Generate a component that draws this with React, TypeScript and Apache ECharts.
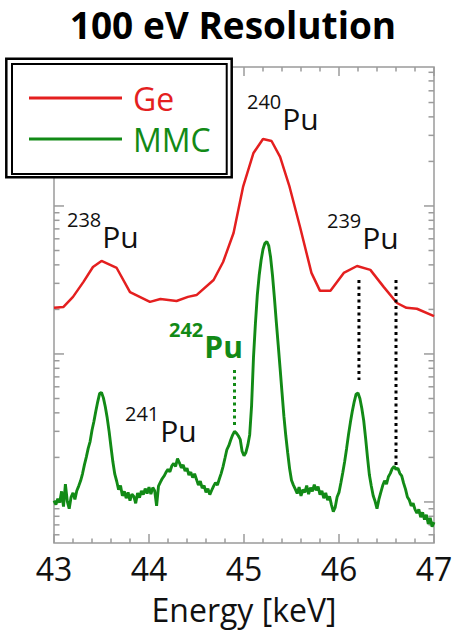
import { useEffect, useRef } from 'react';
import * as echarts from 'echarts';

const chartTitle = '100 eV Resolution';
const xAxisName = 'Energy [keV]';
const xMin = 43;
const xMax = 47;
const xInterval = 1;
const yMin = 5.28;
const yMax = 8690;
const yMajorTicks = [10, 100, 1000];
const yMinorTicks = [6, 7, 8, 9, 20, 30, 40, 50, 60, 70, 80, 90, 200, 300, 400, 500, 600, 700, 800, 900, 2000, 3000, 4000, 5000, 6000, 7000, 8000];
const seriesNames = ['Ge', 'MMC'];

// Ge spectrum (energy keV, counts)
const geSpectrum: [number, number][] = [
  [43.0, 205], [43.1, 208], [43.2, 243], [43.31, 307], [43.41, 387], [43.5, 425], [43.66, 381], [43.8, 262],
  [44.01, 225], [44.12, 235], [44.29, 228], [44.41, 243], [44.5, 250], [44.68, 316], [44.78, 418], [44.89, 657],
  [44.99, 1344], [45.1, 2281], [45.2, 2836], [45.29, 2749], [45.38, 2144], [45.48, 1344], [45.59, 721], [45.71, 353],
  [45.8, 267], [45.91, 267], [46.05, 353], [46.19, 393], [46.33, 370], [46.47, 284], [46.61, 221], [46.71, 205],
  [46.82, 202], [47.0, 180],
];

// MMC spectrum (energy keV, counts)
const mmcSpectrum: [number, number][] = [
  [43.0, 10.2], [43.02, 9.6], [43.04, 10.5], [43.06, 9.9], [43.08, 11.8], [43.1, 9.3], [43.12, 13.2], [43.14, 10.1],
  [43.16, 9.0], [43.18, 10.8], [43.2, 11.5], [43.22, 10.4], [43.24, 11.9], [43.26, 12.8], [43.28, 13.9], [43.3, 15.5],
  [43.32, 17.8], [43.34, 20.1], [43.36, 23.0], [43.38, 25.6], [43.4, 30.5], [43.42, 35.0], [43.44, 41.0], [43.46, 47.5],
  [43.48, 54.0], [43.5, 55.0], [43.52, 50.5], [43.54, 44.0], [43.56, 37.0], [43.58, 30.0], [43.6, 23.5], [43.62, 18.6],
  [43.64, 15.4], [43.66, 13.8], [43.68, 12.1], [43.7, 12.9], [43.72, 11.0], [43.74, 11.8], [43.76, 10.6], [43.78, 11.6],
  [43.8, 10.2], [43.82, 11.3], [43.84, 10.9], [43.86, 9.8], [43.88, 11.5], [43.9, 10.7], [43.92, 11.9], [43.94, 11.2],
  [43.96, 12.3], [43.98, 11.4], [44.0, 12.6], [44.02, 11.3], [44.04, 12.5], [44.06, 11.9], [44.08, 9.4], [44.1, 12.8],
  [44.12, 13.6], [44.14, 14.4], [44.16, 15.0], [44.18, 15.9], [44.2, 16.6], [44.22, 16.0], [44.24, 17.5], [44.26, 18.2],
  [44.28, 17.4], [44.3, 19.6], [44.32, 18.4], [44.34, 17.0], [44.36, 17.8], [44.38, 16.2], [44.4, 16.9], [44.42, 15.2],
  [44.44, 15.9], [44.46, 14.6], [44.48, 15.5], [44.5, 14.2], [44.52, 13.0], [44.54, 13.8], [44.56, 12.4], [44.58, 12.9],
  [44.6, 11.6], [44.62, 12.3], [44.64, 11.2], [44.66, 12.0], [44.68, 12.8], [44.7, 13.5], [44.72, 13.0], [44.74, 14.3],
  [44.76, 15.6], [44.78, 17.4], [44.8, 19.8], [44.82, 22.6], [44.84, 24.0], [44.86, 26.2], [44.88, 28.3], [44.9, 30.0],
  [44.92, 29.2], [44.94, 28.0], [44.96, 26.5], [44.98, 22.0], [45.0, 20.5], [45.02, 21.6], [45.04, 24.2], [45.06, 28.5],
  [45.08, 45.0], [45.1, 95], [45.12, 160], [45.14, 250], [45.16, 340], [45.18, 430], [45.2, 510], [45.22, 560],
  [45.24, 575], [45.26, 540], [45.28, 450], [45.3, 340], [45.32, 240], [45.34, 165], [45.36, 115], [45.38, 80],
  [45.4, 55], [45.42, 38], [45.44, 28], [45.46, 21.5], [45.48, 16.8], [45.5, 14.0], [45.52, 13.0], [45.54, 12.2],
  [45.56, 11.4], [45.58, 12.6], [45.6, 11.0], [45.62, 12.1], [45.64, 11.6], [45.66, 12.9], [45.68, 11.3], [45.7, 12.5],
  [45.72, 11.8], [45.74, 13.1], [45.76, 12.0], [45.78, 12.7], [45.8, 11.2], [45.82, 11.9], [45.84, 10.6], [45.86, 11.5],
  [45.88, 10.3], [45.9, 10.9], [45.92, 9.6], [45.94, 8.6], [45.96, 9.2], [45.98, 10.8], [46.0, 11.6], [46.02, 13.5],
  [46.04, 15.8], [46.06, 18.8], [46.08, 23.0], [46.1, 28.5], [46.12, 34.5], [46.14, 41.0], [46.16, 47.5], [46.18, 53.5],
  [46.2, 54.5], [46.22, 50.0], [46.24, 43.0], [46.26, 35.5], [46.28, 27.0], [46.3, 20.0], [46.32, 15.2], [46.34, 12.8],
  [46.36, 11.0], [46.38, 10.1], [46.4, 9.0], [46.42, 10.4], [46.44, 11.6], [46.46, 12.9], [46.48, 13.9], [46.5, 13.2],
  [46.52, 14.8], [46.54, 15.6], [46.56, 16.8], [46.58, 17.4], [46.6, 16.6], [46.62, 16.9], [46.64, 15.6], [46.66, 15.0],
  [46.68, 13.4], [46.7, 12.2], [46.72, 10.8], [46.74, 10.3], [46.76, 9.4], [46.78, 9.8], [46.8, 8.9], [46.82, 8.4],
  [46.84, 8.9], [46.86, 7.9], [46.88, 8.5], [46.9, 7.6], [46.92, 8.2], [46.94, 7.1], [46.96, 7.8], [46.98, 6.8],
  [47.0, 7.3],
];

// Guide lines (energy, top counts, bottom counts)
const guideEnergies = [44.9, 46.21, 46.6];
const guideTop = [78, 316, 316];
const guideBottom = [32, 66.7, 17.2];
const guideIsMmc = [true, false, false];

const RED = '#e41f1f';
const GREEN = '#128a16';
const GREY = '#9b9b9b';
const FONT = 'Open Sans';

export default function App() {
  const ref = useRef<HTMLDivElement>(null);
  useEffect(() => {
    if (!ref.current) return;
    const chart = echarts.init(ref.current, null, { renderer: 'svg' });

    const tickData = [
      ...yMajorTicks.map((v) => [xMin, v, 10]),
      ...yMinorTicks.map((v) => [xMin, v, 5.5]),
    ];

    const xAxisCommon = {
      type: 'value' as const,
      min: xMin,
      max: xMax,
      interval: xInterval,
      axisLine: { show: false },
      splitLine: { show: false },
      axisTick: { show: true, inside: true, length: 9, lineStyle: { color: GREY, width: 1.5 } },
      minorTick: { show: true, splitNumber: 5, length: 4.5, lineStyle: { color: GREY, width: 1.5 } },
    };

    const label = (mass: string, x: number, y: number, color: string, bold: boolean) => ({
      type: 'text',
      x,
      y,
      z: 10,
      style: {
        text: `{s|${mass}}{p|Pu}`,
        verticalAlign: 'top',
        align: 'left',
        rich: {
          s: { fontSize: 20, fontFamily: FONT, fontWeight: bold ? 'bold' : 'normal', fill: color, color, verticalAlign: 'top' },
          p: { fontSize: 30, fontFamily: FONT, fontWeight: bold ? 'bold' : 'normal', fill: color, color, padding: [12, 0, 0, 1] },
        },
      },
    });

    const option: any = {
      animation: false,
      title: {
        text: chartTitle,
        left: 228,
        textAlign: 'center',
        top: 1,
        textStyle: { fontFamily: FONT, fontWeight: 'bold', fontSize: 37, color: '#000' },
      },
      grid: { left: 54, right: 28, top: 67, bottom: 91, show: true, borderColor: GREY, borderWidth: 1.5, backgroundColor: 'transparent' },
      legend: {
        orient: 'vertical',
        left: 12,
        top: 64,
        z: 6,
        padding: [18, 16, 19, 17],
        itemGap: 9,
        itemWidth: 93,
        itemHeight: 3,
        icon: 'rect',
        backgroundColor: '#fff',
        borderColor: '#000',
        borderWidth: 2,
        selectedMode: false,
        textStyle: { fontFamily: FONT, fontSize: 32, lineHeight: 32, padding: [0, 0, 0, 6] },
        data: [
          { name: seriesNames[0], textStyle: { color: RED } },
          { name: seriesNames[1], textStyle: { color: GREEN } },
        ],
      },
      xAxis: [
        {
          ...xAxisCommon,
          position: 'bottom',
          name: xAxisName,
          nameLocation: 'middle',
          nameGap: 50,
          nameTextStyle: { fontFamily: FONT, fontSize: 32, color: '#111' },
          axisLabel: { show: true, fontFamily: FONT, fontSize: 32, color: '#111', margin: 9 },
        },
        { ...xAxisCommon, position: 'top', axisLabel: { show: false } },
      ],
      yAxis: {
        type: 'log',
        logBase: 10,
        min: yMin,
        max: yMax,
        axisLine: { show: false },
        axisTick: { show: false },
        axisLabel: { show: false },
        splitLine: { show: false },
      },
      graphic: [
        {
          type: 'rect',
          z: 5,
          shape: { x: 6.3, y: 58.7, width: 225.4, height: 118.6 },
          style: { fill: '#fff', stroke: '#000', lineWidth: 2.5 },
        },
        label('238', 67, 209, '#111', false),
        label('240', 247, 91, '#111', false),
        label('239', 327, 210, '#111', false),
        label('241', 125, 403, '#111', false),
        label('242', 169, 319, GREEN, true),
      ],
      series: [
        {
          name: seriesNames[0],
          type: 'line',
          data: geSpectrum,
          symbol: 'none',
          lineStyle: { color: RED, width: 2.5 },
          itemStyle: { color: RED },
          z: 3,
        },
        {
          name: seriesNames[1],
          type: 'line',
          data: mmcSpectrum,
          symbol: 'none',
          lineStyle: { color: GREEN, width: 2.9 },
          itemStyle: { color: GREEN },
          z: 3,
        },
        ...guideEnergies.map((e, i) => ({
          name: 'guide' + i,
          type: 'line',
          data: [[e, guideTop[i]], [e, guideBottom[i]]],
          symbol: 'none',
          silent: true,
          lineStyle: { color: guideIsMmc[i] ? GREEN : '#000', width: 3, type: [3, 3.5], cap: 'butt' },
          z: 4,
        })),
        {
          name: 'yTicks',
          type: 'custom',
          silent: true,
          data: tickData,
          encode: { x: 0, y: 1 },
          renderItem: (_p: any, api: any) => {
            const v = api.value(1);
            const len = api.value(2);
            const l = api.coord([xMin, v]);
            const r = api.coord([xMax, v]);
            return {
              type: 'group',
              children: [
                { type: 'line', shape: { x1: l[0], y1: l[1], x2: l[0] + len, y2: l[1] }, style: { stroke: GREY, lineWidth: 1.5 } },
                { type: 'line', shape: { x1: r[0] - len, y1: r[1], x2: r[0], y2: r[1] }, style: { stroke: GREY, lineWidth: 1.5 } },
              ],
            };
          },
          z: 1,
        },
      ],
    };
    chart.setOption(option);
    return () => chart.dispose();
  }, []);
  return <div ref={ref} style={{ position: 'fixed', left: 0, top: 0, width: 462, height: 634, background: '#fff' }} />;
}
